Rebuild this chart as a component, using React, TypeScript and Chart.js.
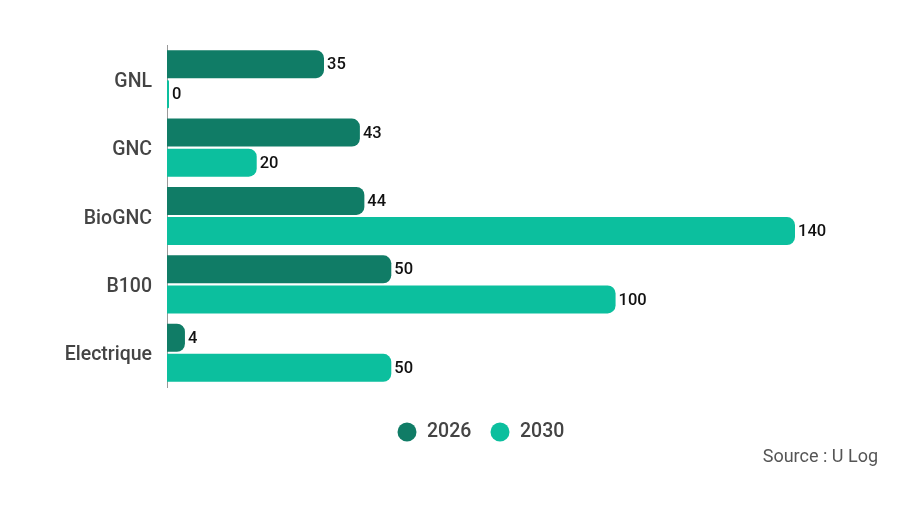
import React, { useEffect, useRef } from "react";
import { Chart, registerables } from "chart.js";

Chart.register(...registerables);

const categories = ["GNL", "GNC", "BioGNC", "B100", "Electrique"];
const series2026 = [35, 43, 44, 50, 4];
const series2030 = [0, 20, 140, 100, 50];
const seriesNames = ["2026", "2030"];
const seriesColors = ["#107c66", "#0cbf9e"];
const sourceText = "Source : U Log";

export default function App() {
  const ref = useRef<HTMLCanvasElement | null>(null);

  useEffect(() => {
    document.body.style.margin = "0";
    const canvas = ref.current;
    if (!canvas) return;

    const labelsPlugin = {
      id: "valueLabels",
      afterDatasetsDraw(chart: any) {
        const ctx = chart.ctx;
        ctx.save();
        ctx.font = "500 16.5px Roboto";
        ctx.fillStyle = "#111";
        ctx.textAlign = "left";
        ctx.textBaseline = "middle";
        chart.data.datasets.forEach((ds: any, di: number) => {
          const meta = chart.getDatasetMeta(di);
          meta.data.forEach((bar: any, i: number) => {
            ctx.fillText(String(ds.data[i]), bar.x + 3, bar.y + 1);
          });
        });
        // category labels, positioned from the y scale
        const yScale = chart.scales.y;
        ctx.font = "500 19.5px Roboto";
        ctx.fillStyle = "#444";
        ctx.textAlign = "right";
        ctx.textBaseline = "alphabetic";
        yScale.ticks.forEach((_t: any, i: number) => {
          const y = yScale.getPixelForTick(i);
          ctx.fillText(String(chart.data.labels[i]), yScale.right - 15, y + 7.5);
        });
        ctx.restore();
      },
    };

    const legendPlugin = {
      id: "customLegend",
      afterDraw(chart: any) {
        const ctx = chart.ctx;
        ctx.save();
        ctx.font = "500 19.5px Roboto";
        ctx.textBaseline = "middle";
        ctx.textAlign = "left";
        const y = 432;
        const xs = [407, 500];
        seriesNames.forEach((name, i) => {
          ctx.fillStyle = seriesColors[i];
          ctx.beginPath();
          ctx.arc(xs[i], y, 9.5, 0, Math.PI * 2);
          ctx.fill();
          ctx.fillStyle = "#444";
          ctx.fillText(name, xs[i] + 20, y);
        });
        ctx.font = "18px Roboto";
        ctx.fillStyle = "#555";
        ctx.textAlign = "right";
        ctx.fillText(sourceText, 878, 457);
        ctx.restore();
      },
    };

    const chart = new Chart(canvas, {
      type: "bar",
      data: {
        labels: categories,
        datasets: [
          {
            label: seriesNames[0],
            data: series2026,
            backgroundColor: seriesColors[0],
            borderRadius: 8,
            borderSkipped: "start",
            barPercentage: 0.93,
            categoryPercentage: 0.88,
            minBarLength: 2,
          },
          {
            label: seriesNames[1],
            data: series2030,
            backgroundColor: seriesColors[1],
            borderRadius: 8,
            borderSkipped: "start",
            barPercentage: 0.93,
            categoryPercentage: 0.88,
            minBarLength: 2,
          },
        ],
      },
      options: {
        indexAxis: "y",
        animation: false,
        responsive: false,
        maintainAspectRatio: false,
        layout: { padding: { top: 45, right: 121, bottom: 129, left: 0 } },
        plugins: {
          legend: { display: false },
          tooltip: { enabled: false },
        },
        scales: {
          x: {
            display: false,
            min: 0,
            max: 140,
          },
          y: {
            afterFit(scale: any) {
              scale.width = 167;
            },
            grid: { display: false, drawTicks: false },
            border: { display: true, color: "#999", width: 1 },
            ticks: { display: false },
          },
        },
      },
      plugins: [labelsPlugin, legendPlugin],
    });

    return () => chart.destroy();
  }, []);

  return (
    <div style={{ width: 916, height: 516, background: "#fff" }}>
      <canvas ref={ref} width={916} height={516} style={{ display: "block" }} />
    </div>
  );
}
